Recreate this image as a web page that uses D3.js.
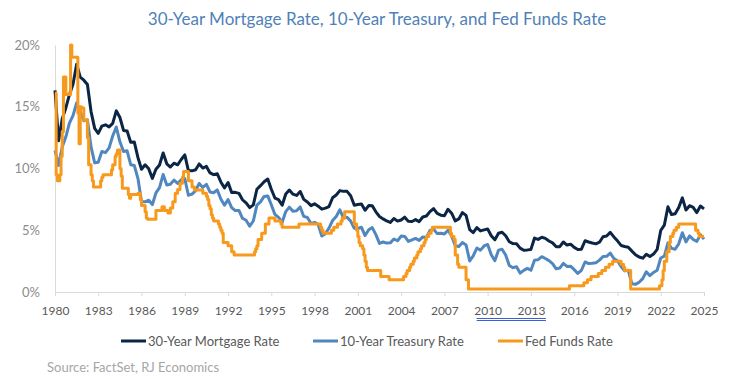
<!DOCTYPE html>
<html>
<head>
<meta charset="utf-8">
<script src="https://cdn.jsdelivr.net/npm/d3@7"></script>
<style>
  html, body { margin: 0; padding: 0; background: #ffffff; }
  svg { display: block; font-family: Lato, "Open Sans", sans-serif; }
</style>
</head>
<body>
<svg id="chart" width="734" height="379"></svg>
<script>
// ---------------- DATA ----------------
const chartTitle = "30-Year Mortgage Rate, 10-Year Treasury, and Fed Funds Rate";
const seriesNames = ["30-Year Mortgage Rate", "10-Year Treasury Rate", "Fed Funds Rate"];
const sourceText = "Source: FactSet, RJ Economics";
const yTickValues = [0, 5, 10, 15, 20];
const xTickYears = [1980, 1983, 1986, 1989, 1992, 1995, 1998, 2001, 2004, 2007, 2010, 2013, 2016, 2019, 2022, 2025];

// quarterly observations, first = Apr 1980, last = Apr 2025
const firstObs = "1980-04";
const lastObs = "2025-04";

const mortgage30 = [
  16.32, 12.24, 14.03,
  14.90, 15.98, 16.83, 18.45,
  17.40, 17.15, 16.80, 14.61,
  13.25, 12.85, 13.43, 13.54,
  13.37, 13.65, 14.67, 14.13,
  13.08, 13.03, 12.13, 12.14,
  10.88, 9.94, 10.30, 9.97,
  9.20, 9.94, 10.28, 11.26,
  10.38, 10.12, 10.43, 10.30,
  10.73, 11.10, 9.83, 9.81,
  9.90, 10.37, 10.04, 10.17,
  9.64, 9.50, 9.58, 8.91,
  8.43, 8.86, 8.05, 8.07,
  7.99, 7.47, 7.21, 6.83,
  7.06, 8.32, 8.61, 8.93,
  9.15, 8.32, 7.61, 7.48,
  7.03, 7.93, 8.25, 7.92,
  7.82, 8.14, 7.50, 7.29,
  6.99, 7.14, 6.95, 6.71,
  6.79, 6.92, 7.63, 7.85,
  8.21, 8.15, 8.15, 7.80,
  7.03, 7.08, 7.13, 6.62,
  7.00, 6.99, 6.49, 6.11,
  5.92, 5.75, 5.63, 5.95,
  5.74, 5.83, 6.06, 5.72,
  5.71, 5.86, 5.70, 6.07,
  6.15, 6.51, 6.76, 6.36,
  6.22, 6.17, 6.70, 6.38,
  5.76, 5.92, 6.43, 6.20,
  5.06, 4.81, 5.22, 4.95,
  5.03, 5.10, 4.56, 4.23,
  4.76, 4.84, 4.55, 4.07,
  3.92, 3.91, 3.55, 3.38,
  3.41, 3.45, 4.37, 4.26,
  4.43, 4.34, 4.13, 3.98,
  3.67, 3.67, 4.05, 3.80,
  3.87, 3.61, 3.44, 3.47,
  4.15, 4.05, 3.97, 3.90,
  4.03, 4.47, 4.53, 4.83,
  4.46, 4.14, 3.77, 3.69,
  3.62, 3.31, 3.02, 2.83,
  2.74, 3.06, 2.87, 3.07,
  3.45, 4.98, 5.41, 6.90,
  6.27, 6.34, 6.84, 7.62,
  6.64, 6.99, 6.85, 6.43,
  6.96, 6.73
];

const treasury10 = [
  11.47, 10.25, 11.75,
  12.57, 13.68, 14.28, 15.32,
  14.59, 13.87, 13.95, 11.75,
  10.46, 10.51, 11.38, 11.28,
  11.67, 12.63, 13.36, 12.16,
  11.38, 11.43, 10.31, 10.24,
  9.19, 7.30, 7.30, 7.43,
  7.08, 8.02, 8.45, 9.52,
  8.67, 8.72, 9.06, 8.80,
  9.09, 9.18, 7.83, 7.92,
  8.21, 8.79, 8.47, 8.72,
  8.09, 8.04, 8.27, 7.53,
  7.03, 7.48, 6.84, 6.59,
  6.60, 5.97, 5.81, 5.33,
  5.75, 7.04, 7.30, 7.74,
  7.78, 7.06, 6.28, 6.04,
  5.65, 6.51, 6.87, 6.53,
  6.58, 6.89, 6.12, 6.03,
  5.54, 5.64, 5.46, 4.53,
  4.72, 5.18, 5.79, 6.11,
  6.66, 5.99, 6.05, 5.74,
  5.16, 5.14, 5.24, 4.57,
  5.04, 5.21, 4.65, 3.94,
  4.05, 3.96, 3.98, 4.29,
  4.15, 4.53, 4.50, 4.10,
  4.22, 4.34, 4.18, 4.46,
  4.42, 4.99, 5.09, 4.73,
  4.76, 4.69, 5.00, 4.53,
  3.74, 3.68, 4.01, 3.81,
  2.52, 2.93, 3.56, 3.39,
  3.73, 3.85, 3.01, 2.54,
  3.39, 3.46, 3.00, 2.15,
  1.97, 2.05, 1.53, 1.75,
  1.91, 1.76, 2.58, 2.62,
  2.86, 2.71, 2.54, 2.30,
  1.88, 1.94, 2.32, 2.07,
  2.09, 1.81, 1.50, 1.76,
  2.43, 2.30, 2.32, 2.36,
  2.58, 2.87, 2.89, 3.15,
  2.71, 2.53, 2.06, 1.71,
  1.76, 0.66, 0.62, 0.79,
  1.08, 1.64, 1.32, 1.58,
  1.76, 2.75, 2.90, 3.98,
  3.53, 3.46, 3.90, 4.80,
  4.06, 4.54, 4.25, 4.10,
  4.63, 4.28
];

// Fed funds: month of each change and the new level (held until next change)
const fedChangeMonths = [
  "1980-04","1980-05","1980-06","1980-08","1980-09","1980-10","1980-11","1981-01","1981-05","1981-06",
  "1981-11","1981-12","1982-01","1982-02","1982-04","1982-07","1982-08","1982-10","1982-11","1982-12",
  "1983-06","1983-07","1983-08","1984-03","1984-04","1984-06","1984-07","1984-08","1984-10","1984-11",
  "1984-12","1985-05","1985-06","1985-07","1986-01","1986-03","1986-04","1986-07","1986-08","1986-09",
  "1987-04","1987-09","1987-11","1988-02","1988-04","1988-06","1988-08","1988-10","1988-12","1989-02",
  "1989-03","1989-07","1989-10","1989-12","1990-07","1990-10","1990-11","1990-12","1991-01","1991-02",
  "1991-03","1991-04","1991-08","1991-09","1991-10","1991-11","1991-12","1992-04","1992-07","1992-09",
  "1994-02","1994-03","1994-04","1994-05","1994-08","1994-11","1995-02","1995-07","1995-12","1996-01",
  "1997-03","1998-09","1998-10","1998-11","1999-06","1999-08","1999-11","2000-02","2000-03","2000-05",
  "2001-01","2001-03","2001-04","2001-05","2001-06","2001-08","2001-09","2001-10","2001-11","2001-12",
  "2002-11","2003-06","2004-06","2004-08","2004-09","2004-11","2004-12","2005-02","2005-03","2005-05",
  "2005-06","2005-08","2005-09","2005-11","2005-12","2006-01","2006-03","2006-05","2006-06","2007-09",
  "2007-10","2007-12","2008-01","2008-03","2008-04","2008-10","2008-12","2015-12","2016-12","2017-03",
  "2017-06","2017-12","2018-03","2018-06","2018-09","2018-12","2019-07","2019-09","2019-10","2020-03",
  "2022-03","2022-05","2022-06","2022-07","2022-09","2022-11","2022-12","2023-02","2023-03","2023-05",
  "2023-07","2024-09","2024-11","2024-12","2025-04"
];
const fedLevels = [
  16.1, 9.5, 9.0, 9.5, 11.0, 13.0, 17.4, 16.0, 20.0, 19.0,
  14.5, 12.0, 15.0, 14.9, 13.9, 12.5, 10.3, 9.5, 9.0, 8.5,
  9.0, 9.3, 9.5, 9.9, 10.3, 11.0, 11.2, 11.5, 10.0, 9.4,
  8.4, 7.9, 7.6, 7.9, 8.0, 7.5, 7.0, 6.5, 6.0, 5.9,
  6.6, 6.9, 6.6, 6.4, 6.8, 7.3, 8.0, 8.3, 8.8, 9.3,
  9.75, 9.0, 8.5, 8.25, 8.0, 7.75, 7.5, 7.0, 6.75, 6.25,
  6.0, 5.75, 5.5, 5.25, 5.0, 4.75, 4.0, 3.75, 3.25, 3.0,
  3.25, 3.5, 3.75, 4.25, 4.75, 5.5, 6.0, 5.75, 5.5, 5.25,
  5.5, 5.25, 5.0, 4.75, 5.0, 5.25, 5.5, 5.75, 6.0, 6.5,
  5.5, 5.0, 4.5, 4.0, 3.75, 3.5, 3.0, 2.5, 2.0, 1.75,
  1.25, 1.0, 1.25, 1.5, 1.75, 2.0, 2.25, 2.5, 2.75, 3.0,
  3.25, 3.5, 3.75, 4.0, 4.25, 4.5, 4.75, 5.0, 5.25, 4.75,
  4.5, 4.25, 3.0, 2.25, 2.0, 1.0, 0.25, 0.5, 0.75, 1.0,
  1.25, 1.5, 1.75, 2.0, 2.25, 2.5, 2.25, 2.0, 1.75, 0.25,
  0.5, 1.0, 1.75, 2.5, 3.25, 4.0, 4.5, 4.75, 5.0, 5.25,
  5.5, 5.0, 4.75, 4.5, 4.5
];

// ---------------- CHART ----------------
const colors = ["#0b2545", "#5187bf", "#f7991c"];
const parseMonth = d3.timeParse("%Y-%m");
const svg = d3.select("#chart");

const x = d3.scaleTime()
  .domain([parseMonth(firstObs), parseMonth(lastObs)])
  .range([55, 704]);
const y = d3.scaleLinear().domain([0, 20]).range([292, 45]);

const quarterDates = d3.timeMonth.range(parseMonth(firstObs), d3.timeMonth.offset(parseMonth(lastObs), 1), 3);
const mortData = mortgage30.map((v, i) => ({ d: quarterDates[i], v }));
const tsyData = treasury10.map((v, i) => ({ d: quarterDates[i], v }));
const fedData = fedChangeMonths.map((m, i) => ({ d: parseMonth(m), v: fedLevels[i] }));

// title
svg.append("text")
  .attr("x", 377).attr("y", 25)
  .attr("text-anchor", "middle")
  .attr("fill", "#4f81b8")
  .style("font-size", "17px")
  .text(chartTitle);

// y axis
const yAxis = d3.axisLeft(y).tickValues(yTickValues).tickFormat(d => d + "%").tickSize(0).tickPadding(15);
const gy = svg.append("g").attr("transform", "translate(55,0)").call(yAxis);
gy.select(".domain").attr("stroke", "#d9d9d9");
gy.selectAll("text").attr("fill", "#8c8c8c").style("font-size", "13px").style("font-family", "Lato, sans-serif");

// x axis
const tickDates = xTickYears.map(yr => parseMonth(yr + "-04"));
const xAxis = d3.axisBottom(x).tickValues(tickDates).tickFormat(d3.timeFormat("%Y")).tickSize(4).tickSizeOuter(0).tickPadding(10);
const gx = svg.append("g").attr("transform", "translate(0,292)").call(xAxis);
gx.select(".domain").attr("stroke", "#d9d9d9");
gx.selectAll(".tick line").attr("stroke", "#d9d9d9");
gx.selectAll("text").attr("fill", "#595959").style("font-size", "12px").style("font-family", "Lato, sans-serif");

// proofing underline seen under two of the year labels
const uStart = x(parseMonth("2010-04")) - 11, uEnd = x(parseMonth("2013-04")) + 15;
[318.5, 320.5].forEach(yy => {
  svg.append("line").attr("x1", uStart).attr("x2", uEnd).attr("y1", yy).attr("y2", yy)
    .attr("stroke", "#3a5fd0").attr("stroke-width", 1);
});

// lines
const lineLin = d3.line().x(d => x(d.d)).y(d => y(d.v)).curve(d3.curveLinear);
const lineStep = d3.line().x(d => x(d.d)).y(d => y(d.v)).curve(d3.curveStepAfter);

svg.append("path").datum(mortData).attr("d", lineLin)
  .attr("fill", "none").attr("stroke", colors[0]).attr("stroke-width", 3).attr("stroke-linejoin", "round");
svg.append("path").datum(tsyData).attr("d", lineLin)
  .attr("fill", "none").attr("stroke", colors[1]).attr("stroke-width", 3).attr("stroke-linejoin", "round");
svg.append("path").datum(fedData).attr("d", lineStep)
  .attr("fill", "none").attr("stroke", colors[2]).attr("stroke-width", 3).attr("stroke-linejoin", "round");

// legend
const legendX = [121, 313, 498];
seriesNames.forEach((name, i) => {
  const g = svg.append("g").attr("transform", `translate(${legendX[i]},341)`);
  g.append("line").attr("x1", 0).attr("x2", 25).attr("y1", 0).attr("y2", 0)
    .attr("stroke", colors[i]).attr("stroke-width", 3);
  g.append("text").attr("x", 27).attr("y", 0).attr("dy", "0.35em")
    .attr("fill", "#595959").style("font-size", "13px").text(name);
});

// source
svg.append("text").attr("x", 47).attr("y", 367).attr("dy", "0.35em")
  .attr("fill", "#a6a6a6").style("font-size", "13px").text(sourceText);
</script>
</body>
</html>
